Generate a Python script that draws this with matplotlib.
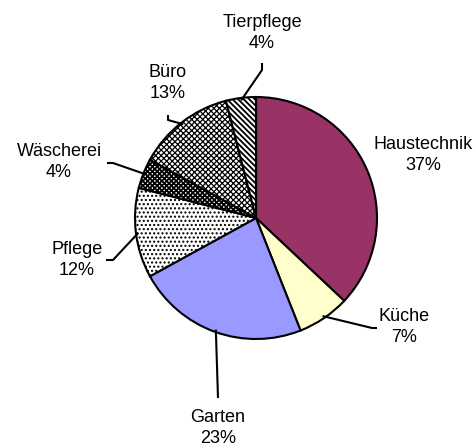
import matplotlib
matplotlib.use("Agg")
import matplotlib.pyplot as plt
import numpy as np

categories = ["Haustechnik", "Küche", "Garten", "Pflege", "Wäscherei", "Büro", "Tierpflege"]
values = [37, 7, 23, 12, 4, 13, 4]

colors = ["#993366", "#FFFFCC", "#9999FF", "white", "white", "white", "white"]
hatches = [None, None, None, "....", "x" * 7, "x" * 6, "\\" * 6]
hatch_lw = [1, 1, 1, 1.0, 1.3, 0.9, 1.3]

# label layout (pixel coords, top-left origin)
label_pos = [(423, 155), (404, 327), (218, 428), (77, 260), (59, 162), (168, 83), (262, 33)]
leaders = [None,
           [(377, 328), (372, 328)],
           [(218, 398)],
           [(106, 260), (113, 260)],
           [(107, 163), (113, 163)],
           [(168, 115), (168, 120)],
           [(262, 63), (262, 70)]]

W, H = 476, 448
plt.rcParams['hatch.linewidth'] = 1.2
fig = plt.figure(figsize=(W / 100, H / 100), dpi=100)
ax = fig.add_axes([0, 0, 1, 1])

cx, cy, r = 256, H - 218, 121
wedges, _ = ax.pie(values, colors=colors, startangle=90, counterclock=False,
                   center=(cx, cy), radius=r, frame=True,
                   wedgeprops=dict(edgecolor='black', linewidth=1.5))
ax.set_xlim(0, W)
ax.set_ylim(0, H)
ax.set_aspect('equal')
ax.axis('off')
for w, h, lw in zip(wedges, hatches, hatch_lw):
    if h:
        w.set_hatch(h)
        try:
            w.set_hatch_linewidth(lw)
        except AttributeError:
            pass

for i, (name, v) in enumerate(zip(categories, values)):
    lx, ly = label_pos[i]
    ax.text(lx, H - ly, f"{name}\n{v}%", ha='center', va='center',
            fontsize=13, family='Liberation Sans', linespacing=1.3)
    if leaders[i] is not None:
        w = wedges[i]
        mid = np.deg2rad((w.theta1 + w.theta2) / 2)
        ex, ey = cx + r * 0.98 * np.cos(mid), cy + r * 0.98 * np.sin(mid)
        pts = [(x, H - y) for x, y in leaders[i]] + [(ex, ey)]
        xs, ys = zip(*pts)
        ax.plot(xs, ys, color='black', linewidth=1.5, solid_capstyle='butt')

fig.savefig("out.png", dpi=100)
